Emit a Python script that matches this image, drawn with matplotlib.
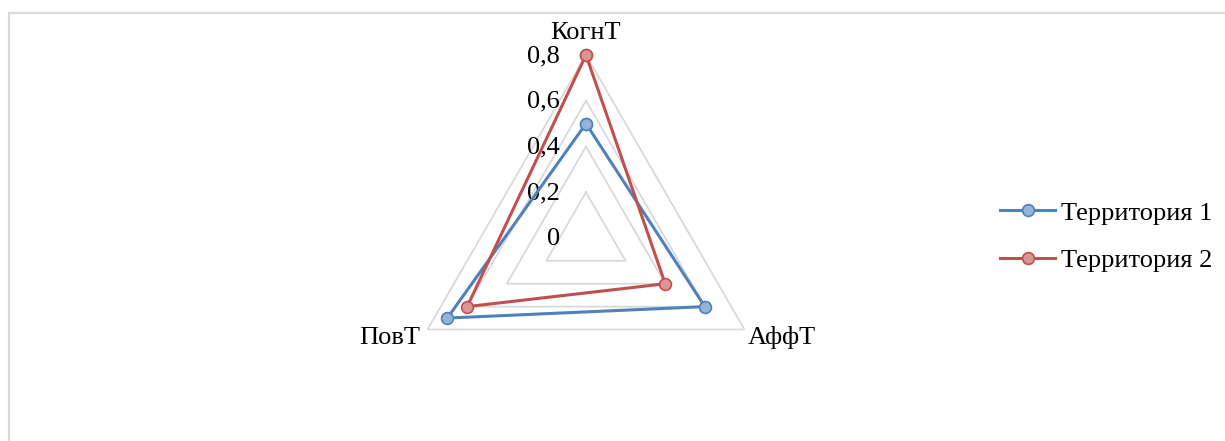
import numpy as np
import matplotlib.pyplot as plt
from matplotlib.transforms import offset_copy
from matplotlib.patches import Rectangle

plt.rcParams['font.family'] = ['Liberation Serif', 'DejaVu Serif']

categories = ['КогнТ', 'АффТ', 'ПовТ']
series_names = ['Территория 1', 'Территория 2']
terr1 = [0.50, 0.60, 0.70]
terr2 = [0.80, 0.40, 0.60]
ticks = [0, 0.2, 0.4, 0.6, 0.8]
tick_labels = ['0', '0,2', '0,4', '0,6', '0,8']

line_colors = ['#4F81BD', '#C0504D']
fill_colors = ['#95B3D7', '#D99694']
FS = 19

fig = plt.figure(figsize=(12.25, 4.41), dpi=100)
# light border around the chart area
fig.patches.append(Rectangle((8.5 / 1225, -0.1), 1.2, (441 - 12.5) / 441 + 0.1,
                             transform=fig.transFigure, fill=False,
                             edgecolor='#D9D9D9', lw=1.6))

cx, cy, R = 586, 238, 183
ax = fig.add_axes([(cx - R) / 1225, (441 - cy - R) / 441, 2 * R / 1225, 2 * R / 441],
                  projection='polar')
ax.set_theta_offset(np.pi / 2)
ax.set_theta_direction(-1)
ax.set_ylim(0, 0.8)
ax.grid(False)
ax.spines['polar'].set_visible(False)
ax.set_xticks([])
ax.set_yticks([])
ax.patch.set_alpha(0)

theta = np.linspace(0, 2 * np.pi, len(categories), endpoint=False)
theta_c = np.append(theta, theta[0])

# triangular grid
for v in ticks[1:]:
    ax.plot(theta_c, [v] * len(theta_c), color='#D9D9D9', lw=1.3, zorder=1)

# radial labels
lab_tr = offset_copy(ax.transData, fig=fig, x=-26, y=-1, units='dots')
for v, t in zip(ticks, tick_labels):
    ax.text(0, v, t, transform=lab_tr, ha='right', va='center', fontsize=FS)

# category labels
ax.text(theta[0], 0.8, categories[0], fontsize=FS, ha='center', va='bottom',
        transform=offset_copy(ax.transData, fig=fig, x=0, y=11, units='dots'))
ax.text(theta[1], 0.8, categories[1], fontsize=FS, ha='left', va='center',
        transform=offset_copy(ax.transData, fig=fig, x=3, y=-8, units='dots'))
ax.text(theta[2], 0.8, categories[2], fontsize=FS, ha='right', va='center',
        transform=offset_copy(ax.transData, fig=fig, x=-7, y=-8, units='dots'))

for vals, name, lc, fc in zip([terr1, terr2], series_names, line_colors, fill_colors):
    ax.plot(theta_c, vals + vals[:1], color=lc, lw=2.2, marker='o', markersize=8.5,
            markerfacecolor=fc, markeredgecolor=lc, markeredgewidth=1.2,
            label=name, zorder=3, clip_on=False)

fig.legend(loc='center left', bbox_to_anchor=(1000 / 1225, (441 - 236.5) / 441),
           frameon=False, fontsize=FS, handlelength=2.1, handletextpad=0.2,
           labelspacing=0.9, borderpad=0, borderaxespad=0)

fig.savefig('out.png', dpi=100)
